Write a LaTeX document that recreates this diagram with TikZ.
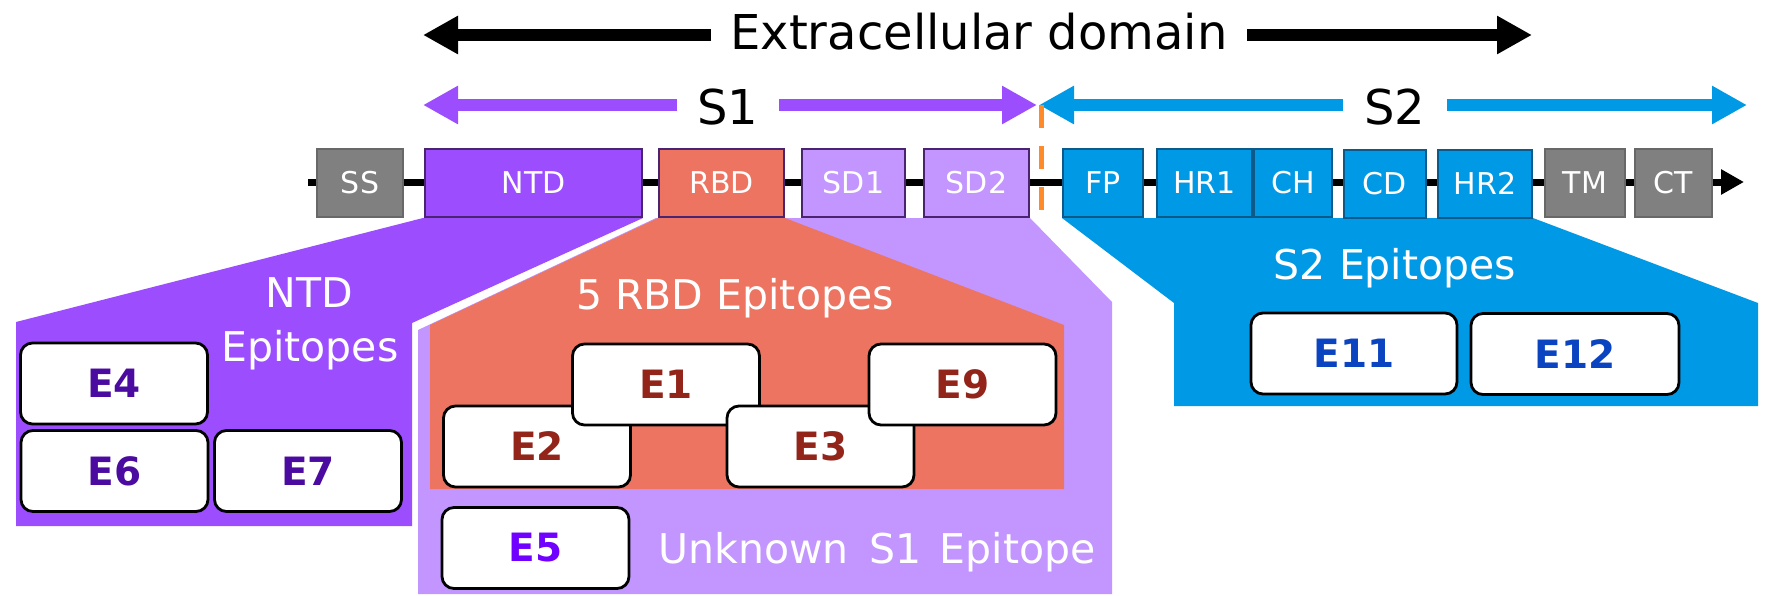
\documentclass[tikz,border=0pt]{standalone}
\usepackage{fontspec}
\setmainfont{DejaVu Sans}
\usetikzlibrary{arrows.meta}
\definecolor{cNTD}{HTML}{9C4EFF}
\definecolor{cRBD}{HTML}{EC7461}
\definecolor{cSD}{HTML}{C396FF}
\definecolor{cS2}{HTML}{0099E5}
\definecolor{cGray}{HTML}{808080}
\definecolor{cPurLine}{HTML}{4A2470}
\definecolor{cBlueLine}{HTML}{0B5A8A}
\definecolor{cGrayLine}{HTML}{686868}
\definecolor{cOrange}{HTML}{FF8A2A}
\definecolor{tPur}{HTML}{4B0BA0}
\definecolor{tRed}{HTML}{92241A}
\definecolor{tVio}{HTML}{7000FF}
\definecolor{tBlue}{HTML}{0B44C0}
\begin{document}
\begin{tikzpicture}[x=1pt,y=-1pt,
  dom/.style={draw, line width=2pt, minimum height=68pt, inner sep=0pt, text=white, font=\fontsize{30}{30}\selectfont},
  purbox/.style={dom, draw=cPurLine},
  bluebox/.style={dom, draw=cBlueLine, fill=cS2},
  graybox/.style={dom, draw=cGrayLine, fill=cGray},
  epi/.style={draw=black, line width=2.8pt, fill=white, rounded corners=12pt, minimum height=81pt, minimum width=187pt, inner sep=0pt, font=\fontsize{39}{39}\selectfont\bfseries},
  lbl/.style={text=white, font=\fontsize{41}{41}\selectfont, anchor=base, inner sep=0pt},
  big/.style={font=\fontsize{48}{48}\selectfont, anchor=base, inner sep=0pt},
  harrow/.style={line width=12pt, -{Triangle[length=35pt,width=36pt]}},
]
\useasboundingbox (0,0) rectangle (1770,595);

% epitope regions
\fill[cNTD] (423,218) -- (643,218) -- (412,323) -- (412,526) -- (16,526) -- (16,322) -- cycle;
\fill[cSD] (656,218) -- (1030,218) -- (1112,302) -- (1112,594) -- (418,594) -- (418,330) -- cycle;
\fill[cRBD] (658,218) -- (785,218) -- (1064,325) -- (1064,489) -- (430,489) -- (430,325) -- cycle;
\fill[cS2] (1062,218) -- (1533,218) -- (1758,303) -- (1758,406) -- (1174,406) -- (1174,303) -- cycle;

% top arrows
\coordinate (ecL) at (423,35);  \coordinate (ecLi) at (711,35);
\coordinate (ecRi) at (1247,35); \coordinate (ecR) at (1532,35);
\draw[harrow, black] (ecLi) -- (ecL);
\draw[harrow, black] (ecRi) -- (ecR);
\node[big] (ectext) at (979,49) {Extracellular domain};

\coordinate (s1L) at (423,105);  \coordinate (s1Li) at (677,105);
\coordinate (s1Ri) at (779,105); \coordinate (s1R) at (1037,105);
\draw[harrow, cNTD] (s1Li) -- (s1L);
\draw[harrow, cNTD] (s1Ri) -- (s1R);
\node[big] (s1text) at (728,124) {S1};

\coordinate (s2L) at (1039,105);  \coordinate (s2Li) at (1343,105);
\coordinate (s2Ri) at (1447,105); \coordinate (s2R) at (1747,105);
\draw[harrow, cS2] (s2Li) -- (s2L);
\draw[harrow, cS2] (s2Ri) -- (s2R);
\node[big] (s2text) at (1395,124) {S2};

% cleavage site
\coordinate (cutT) at (1041,105); \coordinate (cutB) at (1041,214);
\draw[cOrange, line width=5pt, dash pattern=on 23pt off 18pt] (cutT) -- (cutB);

% backbone
\coordinate (bbL) at (308,182); \coordinate (bbR) at (1744,182);
\draw[line width=7pt, -{Triangle[length=23pt,width=24pt]}] (bbL) -- (bbR);

% domains
\node[graybox, minimum width=86pt] (ss) at (360,183) {SS};
\node[purbox, fill=cNTD, minimum width=217pt] (ntd) at (533.5,183) {NTD};
\node[purbox, fill=cRBD, minimum width=125pt] (rbd) at (721.5,183) {RBD};
\node[purbox, fill=cSD, minimum width=103pt] (sd1) at (853.5,183) {SD1};
\node[purbox, fill=cSD, minimum width=105pt] (sd2) at (976.5,183) {SD2};
\node[bluebox, minimum width=80pt] (fp) at (1103,183) {FP};
\node[bluebox, minimum width=95pt] (hr1) at (1204.5,183) {HR1};
\node[bluebox, minimum width=78pt] (ch) at (1293,183) {CH};
\node[bluebox, minimum width=82pt] (cd) at (1385,183.5) {CD};
\node[bluebox, minimum width=94pt] (hr2) at (1485,183.5) {HR2};
\node[graybox, minimum width=80pt] (tm) at (1585,183) {TM};
\node[graybox, minimum width=77pt] (ct) at (1673.5,183) {CT};

% region labels
\node[lbl] (ntdl1) at (309,307) {NTD};
\node[lbl] (ntdl2) at (310,361) {Epitopes};
\node[lbl] (rbdl) at (735,309) {5 RBD Epitopes};
\node[lbl] (s2l) at (1395,279) {S2 Epitopes};
\node[lbl] (unk) at (877,563) {Unknown\hspace{0.5em}S1\hspace{0.45em}Epitope};

% epitopes
\node[epi, text=tPur] (e4) at (114,383.5) {E4};
\node[epi, text=tPur] (e6) at (114.5,471) {E6};
\node[epi, text=tPur] (e7) at (308,471) {E7};
\node[epi, text=tRed] (e2) at (537,446.5) {E2};
\node[epi, text=tRed] (e1) at (666,384.5) {E1};
\node[epi, text=tRed] (e3) at (820.5,446.5) {E3};
\node[epi, text=tRed] (e9) at (962.5,384.5) {E9};
\node[epi, text=tVio] (e5) at (535.5,548) {E5};
\node[epi, text=tBlue, minimum width=206pt] (e11) at (1354,353.5) {E11};
\node[epi, text=tBlue, minimum width=208pt] (e12) at (1575,354) {E12};
\end{tikzpicture}
\end{document}
